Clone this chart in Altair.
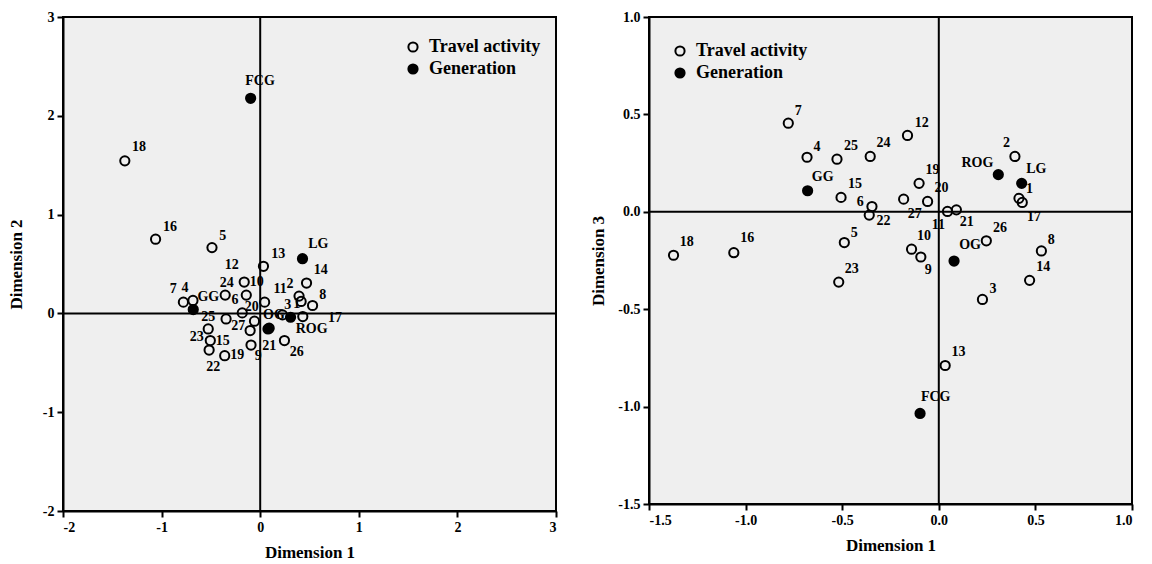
import altair as alt
import pandas as pd

# ---------------- data ----------------
activities = [str(i) for i in range(1, 28)]
generations = ["FCG", "GG", "LG", "OG", "ROG"]

# Dimension 1 (shared by both panels)
dim1_act = [0.415, 0.394, 0.226, -0.682, -0.489, -0.346, -0.779, 0.531, -0.093, -0.141,
            0.045, -0.162, 0.033, 0.470, -0.506, -1.061, 0.432, -1.373, -0.102, -0.058,
            0.091, -0.360, -0.518, -0.355, -0.527, 0.246, -0.182]
dim2_act = [0.121, 0.175, -0.015, 0.131, 0.666, -0.056, 0.114, 0.080, -0.320, 0.185,
            0.114, 0.317, 0.477, 0.307, -0.275, 0.751, -0.032, 1.544, -0.174, -0.079,
            -0.150, -0.428, -0.371, 0.185, -0.157, -0.275, 0.005]
dim3_act = [0.069, 0.284, -0.450, 0.280, -0.158, 0.027, 0.455, -0.201, -0.232, -0.192,
            0.002, 0.392, -0.789, -0.352, 0.074, -0.210, 0.048, -0.223, 0.146, 0.053,
            0.010, -0.017, -0.361, 0.284, 0.270, -0.149, 0.065]

dim1_gen = [-0.097, -0.679, 0.429, 0.079, 0.308]
dim2_gen = [2.177, 0.039, 0.554, -0.157, -0.039]
dim3_gen = [-1.035, 0.108, 0.146, -0.253, 0.191]

# label anchor points (data units) as printed in the picture
lab1_left_act = [0.370, 0.302, 0.279, -0.763, -0.380, -0.256, -0.881, 0.634, -0.019, -0.035,
                 0.201, -0.289, 0.184, 0.614, -0.380, -0.915, 0.759, -1.229, -0.232, -0.086,
                 0.092, -0.476, -0.644, -0.340, -0.526, 0.370, -0.222]
lab2_left_act = [0.097, 0.300, 0.086, 0.259, 0.785, 0.131, 0.249, 0.188, -0.428, 0.317,
                 0.249, 0.487, 0.605, 0.436, -0.275, 0.876, -0.049, 1.689, -0.422, 0.063,
                 -0.333, -0.547, -0.242, 0.307, -0.032, -0.394, -0.130]
lab1_left_gen = [-0.002, -0.526, 0.589, 0.140, 0.522]
lab2_left_gen = [2.350, 0.165, 0.706, -0.021, -0.158]

lab1_right_act = [0.470, 0.351, 0.281, -0.630, -0.438, -0.407, -0.727, 0.582, -0.055, -0.076,
                  -0.002, -0.088, 0.102, 0.541, -0.434, -0.992, 0.493, -1.304, -0.033, 0.014,
                  0.145, -0.286, -0.450, -0.286, -0.455, 0.317, -0.124]
lab3_right_act = [0.117, 0.352, -0.398, 0.331, -0.107, 0.052, 0.517, -0.146, -0.301, -0.124,
                  -0.067, 0.455, -0.722, -0.282, 0.143, -0.136, -0.029, -0.153, 0.215, 0.120,
                  -0.052, -0.046, -0.292, 0.352, 0.340, -0.084, -0.009]
lab1_right_gen = [-0.016, -0.601, 0.505, 0.162, 0.200]
lab3_right_gen = [-0.952, 0.180, 0.220, -0.170, 0.253]

kinds = ["Travel activity", "Generation"]

FONT = "Liberation Serif"


def make_df(ax, ay, gx, gy, alx, aly, glx, gly):
    rows = []
    for i, n in enumerate(activities):
        rows.append(dict(name=n, kind=kinds[0], x=ax[i], y=ay[i], lx=alx[i], ly=aly[i]))
    for i, n in enumerate(generations):
        rows.append(dict(name=n, kind=kinds[1], x=gx[i], y=gy[i], lx=glx[i], ly=gly[i]))
    return pd.DataFrame(rows)


def panel(df, dom, ticks, fmt, ytitle, w, h, legx, legy, ytitlepad):
    xs = alt.Scale(domain=dom, nice=False, zero=False)
    ys = alt.Scale(domain=dom, nice=False, zero=False)
    lexpr = ("datum.value < 0 ? '-' + format(-datum.value, '%s') : format(datum.value, '%s')"
             % (fmt, fmt))
    xax = alt.Axis(values=ticks, labelExpr=lexpr, title="Dimension 1")
    yax = alt.Axis(values=ticks, labelExpr=lexpr, title=ytitle, titlePadding=ytitlepad)
    zero = pd.DataFrame({"v": [0]})
    vr = alt.Chart(zero).mark_rule(color="black", strokeWidth=2).encode(
        x=alt.X("v:Q", scale=xs, axis=xax))
    hr = alt.Chart(zero).mark_rule(color="black", strokeWidth=2).encode(
        y=alt.Y("v:Q", scale=ys, axis=yax))
    leg = alt.Legend(title=None, orient="none", legendX=legx, legendY=legy, padding=0,
                     labelFont=FONT, labelFontWeight="bold", labelFontSize=18,
                     labelColor="black", symbolSize=85, symbolStrokeWidth=2,
                     symbolType="circle", rowPadding=4, labelOffset=7)
    pts = alt.Chart(df).mark_point(filled=True, opacity=1, size=85, strokeWidth=2,
                                   shape="circle").encode(
        x=alt.X("x:Q", scale=xs, axis=xax),
        y=alt.Y("y:Q", scale=ys, axis=yax),
        fill=alt.Fill("kind:N", scale=alt.Scale(domain=kinds, range=["transparent", "black"]),
                      legend=leg),
        stroke=alt.Stroke("kind:N", scale=alt.Scale(domain=kinds, range=["black", "black"]),
                          legend=leg),
    )
    txt = alt.Chart(df).mark_text(font=FONT, fontWeight="bold", fontSize=14,
                                  color="black").encode(
        x=alt.X("lx:Q", scale=xs, axis=xax),
        y=alt.Y("ly:Q", scale=ys, axis=yax),
        text="name:N",
    )
    return alt.layer(vr, hr, pts, txt).properties(width=w, height=h)


df_left = make_df(dim1_act, dim2_act, dim1_gen, dim2_gen,
                  lab1_left_act, lab2_left_act, lab1_left_gen, lab2_left_gen)
df_right = make_df(dim1_act, dim3_act, dim1_gen, dim3_gen,
                   lab1_right_act, lab3_right_act, lab1_right_gen, lab3_right_gen)

left = panel(df_left, [-2, 3], [-2, -1, 0, 1, 2, 3], "d", "Dimension 2", 493, 494,
             341, 21, 17)
right = panel(df_right, [-1.5, 1.0], [-1.5, -1.0, -0.5, 0.0, 0.5, 1.0], ".1f",
              "Dimension 3", 483, 487, 22, 25, 10)

chart = alt.hconcat(left, right, spacing=30).resolve_scale(
    fill="independent", stroke="independent", x="independent", y="independent"
).resolve_legend(fill="independent", stroke="independent").properties(
    padding={"left": 6, "top": 9, "right": 5, "bottom": 5},
    background="white",
).configure_view(
    fill="#efefef", stroke="black", strokeWidth=2
).configure_axis(
    labelFont=FONT, labelFontWeight="bold", labelFontSize=14, labelColor="black",
    titleFont=FONT, titleFontWeight="bold", titleFontSize=17, titleColor="black",
    tickColor="black", tickSize=6, tickWidth=2, domainColor="black", domainWidth=2,
    grid=False, labelPadding=3, titlePadding=10,
)

chart.save("out.html", embed_options={"renderer": "svg", "actions": False})
